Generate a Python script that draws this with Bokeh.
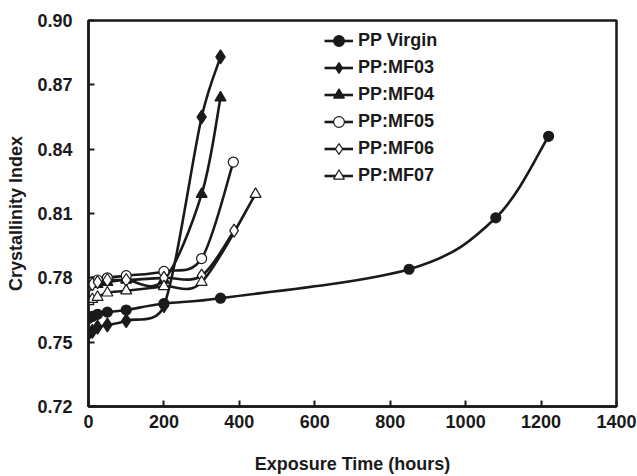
import math
from bokeh.plotting import figure
from bokeh.models import Range1d, FixedTicker, PrintfTickFormatter, Legend, LegendItem, ColumnDataSource
from bokeh.embed import file_html
from bokeh.resources import INLINE

# ---- data ----
x_ticks = [0, 200, 400, 600, 800, 1000, 1200, 1400]
y_ticks = [0.72, 0.75, 0.78, 0.81, 0.84, 0.87, 0.90]

virgin_x = [0, 10, 24, 50, 100, 200, 350, 850, 1080, 1220]
virgin_y = [0.761, 0.762, 0.763, 0.764, 0.765, 0.768, 0.7705, 0.784, 0.808, 0.846]
mf03_x = [0, 10, 24, 50, 100, 200, 300, 350]
mf03_y = [0.754, 0.755, 0.757, 0.758, 0.760, 0.767, 0.855, 0.883]
mf04_x = [0, 10, 24, 50, 100, 200, 300, 350]
mf04_y = [0.776, 0.777, 0.777, 0.778, 0.779, 0.779, 0.819, 0.864]
mf05_x = [0, 10, 24, 50, 100, 200, 300, 384]
mf05_y = [0.777, 0.778, 0.779, 0.780, 0.781, 0.783, 0.789, 0.834]
mf06_x = [0, 10, 24, 50, 100, 200, 300, 386]
mf06_y = [0.776, 0.777, 0.778, 0.779, 0.779, 0.780, 0.781, 0.802]
mf07_x = [0, 10, 24, 50, 100, 200, 300, 443]
mf07_y = [0.769, 0.770, 0.771, 0.773, 0.774, 0.776, 0.778, 0.819]

labels = ["PP Virgin", "PP:MF03", "PP:MF04", "PP:MF05", "PP:MF06", "PP:MF07"]

# ---- layout ----
W, H = 637, 476
BL, BR, BT, BB = 88, 21, 20, 70
X0, X1 = 0, 1400
Y0, Y1 = 0.72, 0.90
FW, FH = W - BL - BR, H - BT - BB
SX, SY = FW / (X1 - X0), FH / (Y1 - Y0)

FONT = "Liberation Sans"
INK = "#1a1a1a"


def smooth_segments(xs, ys):
    """Excel-style smoothed line: cubic Bezier control points computed in screen space."""
    px = [x * SX for x in xs]
    py = [y * SY for y in ys]
    n = len(px)

    def d(a, b):
        return math.hypot(px[a] - px[b], py[a] - py[b])

    out = dict(x0=[], y0=[], x1=[], y1=[], cx0=[], cy0=[], cx1=[], cy1=[])
    for i in range(n - 1):
        a = i - 1 if i > 0 else i
        b = i + 2 if i + 2 < n else i + 1
        d12 = d(i, i + 1)
        d02 = d(a, i + 1)
        d13 = d(i, b)
        f1 = 1 / 6
        f2 = 1 / 6
        if d02 > 0 and d02 / 6 > d12 / 2:
            f1 = (d12 / 2) / d02
        if d13 > 0 and d13 / 6 > d12 / 2:
            f2 = (d12 / 2) / d13
        c1x = px[i] + (px[i + 1] - px[a]) * f1
        c1y = py[i] + (py[i + 1] - py[a]) * f1
        c2x = px[i + 1] - (px[b] - px[i]) * f2
        c2y = py[i + 1] - (py[b] - py[i]) * f2
        out["x0"].append(xs[i]); out["y0"].append(ys[i])
        out["x1"].append(xs[i + 1]); out["y1"].append(ys[i + 1])
        out["cx0"].append(c1x / SX); out["cy0"].append(c1y / SY)
        out["cx1"].append(c2x / SX); out["cy1"].append(c2y / SY)
    return out


p = figure(width=W, height=H, output_backend="svg", toolbar_location=None,
           x_range=Range1d(X0, X1), y_range=Range1d(Y0, Y1),
           min_border_left=BL, min_border_right=BR, min_border_top=BT, min_border_bottom=BB,
           background_fill_color="white", border_fill_color="white")

p.grid.visible = False
p.outline_line_color = INK
p.outline_line_width = 2.5

for ax in (p.xaxis[0], p.yaxis[0]):
    ax.axis_line_color = INK
    ax.axis_line_width = 2.5
    ax.major_tick_in = 6
    ax.major_tick_out = 0
    ax.major_tick_line_width = 2
    ax.major_tick_line_color = INK
    ax.minor_tick_line_color = None
    ax.major_label_text_font = FONT
    ax.major_label_text_font_style = "bold"
    ax.major_label_text_font_size = "18px"
    ax.major_label_text_color = INK
    ax.axis_label_text_font = FONT
    ax.axis_label_text_font_style = "bold"
    ax.axis_label_text_font_size = "18px"
    ax.axis_label_text_color = INK

p.xaxis.ticker = FixedTicker(ticks=x_ticks)
p.yaxis.ticker = FixedTicker(ticks=y_ticks)
p.yaxis.formatter = PrintfTickFormatter(format="%.2f")
p.xaxis.axis_label = "Exposure Time (hours)"
p.yaxis.axis_label = "Crystallinity Index"
p.xaxis.major_label_standoff = 8
p.yaxis.major_label_standoff = 16
p.xaxis.axis_label_standoff = 23
p.yaxis.axis_label_standoff = 8

series = [
    (virgin_x, virgin_y, "circle", 10, INK),
    (mf03_x, mf03_y, "diamond", 14, INK),
    (mf04_x, mf04_y, "triangle", 11, INK),
    (mf05_x, mf05_y, "circle", 10, "white"),
    (mf06_x, mf06_y, "diamond", 13, "white"),
    (mf07_x, mf07_y, "triangle", 11, "white"),
]

line_rs = []
for xs, ys, mk, sz, fill in series:
    seg = ColumnDataSource(smooth_segments(xs, ys))
    line_rs.append(p.bezier(x0="x0", y0="y0", x1="x1", y1="y1", cx0="cx0", cy0="cy0",
                            cx1="cx1", cy1="cy1", source=seg, line_color=INK, line_width=2.6))

# markers drawn after all lines; virgin markers drawn last (on top)
marker_rs = [None] * len(series)
for k in [1, 2, 3, 4, 5, 0]:
    xs, ys, mk, sz, fill = series[k]
    marker_rs[k] = p.scatter(xs, ys, marker=mk, size=sz, fill_color=fill,
                             line_color=INK, line_width=1.2)

items = [LegendItem(label=lab, renderers=[lr, sr])
         for lab, lr, sr in zip(labels, line_rs, marker_rs)]

legend = Legend(items=items, location=(236, 217), border_line_color=None,
                background_fill_alpha=0, padding=0, spacing=0, margin=0,
                label_height=27, glyph_height=27, glyph_width=29, label_standoff=5,
                label_text_font=FONT, label_text_font_style="bold",
                label_text_font_size="18px", label_text_color=INK)
p.add_layout(legend)

open("out.html", "w").write(file_html(p, INLINE))
